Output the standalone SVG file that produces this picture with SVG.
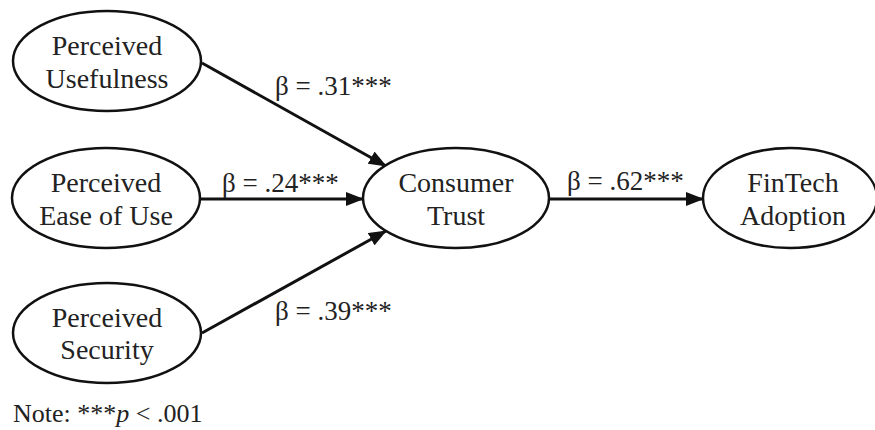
<svg xmlns="http://www.w3.org/2000/svg" width="875" height="430" viewBox="0 0 875 430">
<style>
.node ellipse{fill:#fff;stroke:#111;stroke-width:2.5}
text{font-family:"Liberation Serif","Times New Roman",serif;font-size:27px;fill:#222}
.node text{text-anchor:middle;font-size:28px}
.edge{stroke:#111;stroke-width:3;fill:none;marker-end:url(#arr)}
</style>
<defs>
<marker id="arr" markerUnits="userSpaceOnUse" markerWidth="18" markerHeight="14" refX="17" refY="7" orient="auto">
<path d="M0,0 L18,7 L0,14 z" fill="#111"/>
</marker>
</defs>
<rect width="875" height="430" fill="#fff"/>
<g id="connectors">
<line class="edge" x1="202" y1="63" x2="386" y2="166"/>
<line class="edge" x1="201" y1="199" x2="363" y2="199"/>
<line class="edge" x1="202" y1="333" x2="386" y2="231"/>
<line class="edge" x1="550" y1="199" x2="703" y2="199"/>
<text x="275" y="95">β = .31***</text>
<text x="222" y="192">β = .24***</text>
<text x="275" y="320">β = .39***</text>
<text x="567" y="190">β = .62***</text>
</g>
<g id="pu" class="node">
<ellipse cx="107" cy="61" rx="94" ry="50"/>
<text x="107" y="55">Perceived</text>
<text x="107" y="88">Usefulness</text>
</g>
<g id="peou" class="node">
<ellipse cx="106" cy="198" rx="94" ry="50"/>
<text x="106" y="192">Perceived</text>
<text x="106" y="225">Ease of Use</text>
</g>
<g id="ps" class="node">
<ellipse cx="107" cy="333" rx="94" ry="50"/>
<text x="107" y="327">Perceived</text>
<text x="107" y="359">Security</text>
</g>
<g id="ct" class="node">
<ellipse cx="456" cy="198" rx="93" ry="50"/>
<text x="456" y="192">Consumer</text>
<text x="456" y="225">Trust</text>
</g>
<g id="fa" class="node">
<ellipse cx="790" cy="198" rx="87" ry="50"/>
<text x="793" y="192">FinTech</text>
<text x="793" y="225">Adoption</text>
</g>
<text x="13" y="422" style="font-size:26px">Note: ***<tspan font-style="italic">p</tspan> &lt; .001</text>
</svg>
